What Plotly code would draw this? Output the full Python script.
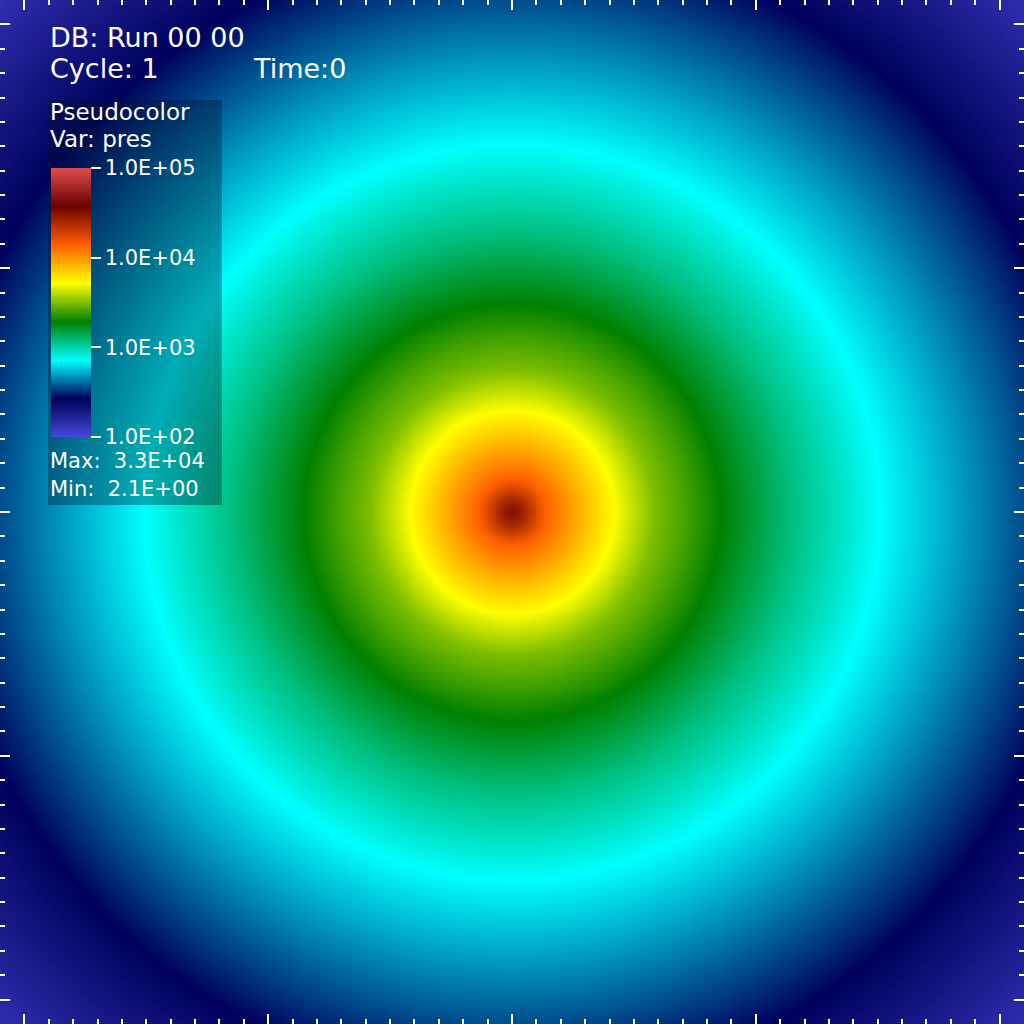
import numpy as np
import plotly.graph_objects as go

# radial pressure profile (radius in axis units)
radius = [0.0, 0.05, 0.14, 0.28, 0.42, 0.58, 0.85, 1.15, 1.5, 2.35, 2.97]
pres = [33100, 25100, 13800, 8300, 5130, 3160, 1950, 1175, 724, 269, 141]

bar_vals = [100, 1000, 10000, 100000]
bar_text = ["1.0E+02", "1.0E+03", "1.0E+04", "1.0E+05"]

# VisIt "hot_desaturated"
hot_desat = [
    [0.0, "rgb(71,71,219)"],
    [0.143, "rgb(0,0,92)"],
    [0.285, "rgb(0,255,255)"],
    [0.429, "rgb(0,128,0)"],
    [0.571, "rgb(255,255,0)"],
    [0.714, "rgb(255,97,0)"],
    [0.857, "rgb(107,0,0)"],
    [1.0, "rgb(224,77,77)"],
]

W = 1024
FONT = "DejaVu Sans"

g = np.linspace(-2.1, 2.1, 211)
X, Y = np.meshgrid(g, g)
R = np.sqrt(X**2 + Y**2)
Z = np.interp(R, radius, np.log10(pres))

fig = go.Figure()
fig.add_trace(
    go.Heatmap(
        x=g,
        y=g,
        z=Z,
        zmin=np.log10(bar_vals[0]),
        zmax=np.log10(bar_vals[-1]),
        zsmooth="best",
        colorscale=hot_desat,
        hoverinfo="skip",
        colorbar=dict(
            x=51 / W,
            xanchor="left",
            y=1 - 168 / W,
            yanchor="top",
            len=269 / W,
            lenmode="fraction",
            thickness=40,
            xpad=0,
            ypad=0,
            outlinewidth=0,
            tickvals=np.log10(bar_vals),
            ticktext=bar_text,
            ticks="outside",
            ticklen=10,
            tickwidth=1.5,
            tickcolor="white",
            tickfont=dict(family=FONT, size=21, color="white"),
        ),
    )
)

axis = dict(
    range=[-2.1, 2.1],
    showgrid=False,
    zeroline=False,
    showticklabels=False,
    tick0=0,
    dtick=1,
    ticks="inside",
    ticklen=10,
    tickwidth=2,
    tickcolor="white",
    mirror="ticks",
    minor=dict(dtick=0.1, ticks="inside", ticklen=5, tickwidth=2, tickcolor="white"),
)
fig.update_xaxes(**axis)
fig.update_yaxes(**axis)

fig.add_shape(
    type="rect", xref="paper", yref="paper",
    x0=48 / W, x1=222 / W, y0=1 - 505 / W, y1=1 - 100 / W,
    fillcolor="rgba(0,20,45,0.35)", line_width=0, layer="above",
)


def label(text, x, y, size):
    fig.add_annotation(
        text=text, xref="paper", yref="paper", x=x / W, y=1 - y / W,
        xanchor="left", yanchor="middle", showarrow=False,
        font=dict(family=FONT, size=size, color="white"), borderpad=0,
    )


label("DB: Run 00 00", 49, 37, 27)
label("Cycle: 1", 49, 68, 27)
label("Time:0", 252, 68, 27)
label("Pseudocolor", 49, 112, 23)
label("Var: pres", 49, 139, 23)
label("Max:  3.3E+04", 49, 461, 21)
label("Min:  2.1E+00", 49, 489, 21)

fig.update_layout(
    width=W,
    height=W,
    margin=dict(l=0, r=0, t=0, b=0),
    paper_bgcolor="black",
    plot_bgcolor="black",
    showlegend=False,
)

fig.write_html(
    "out.html",
    config={"displayModeBar": False},
    post_script="document.body.style.margin='0';document.body.style.overflow='hidden';",
)
